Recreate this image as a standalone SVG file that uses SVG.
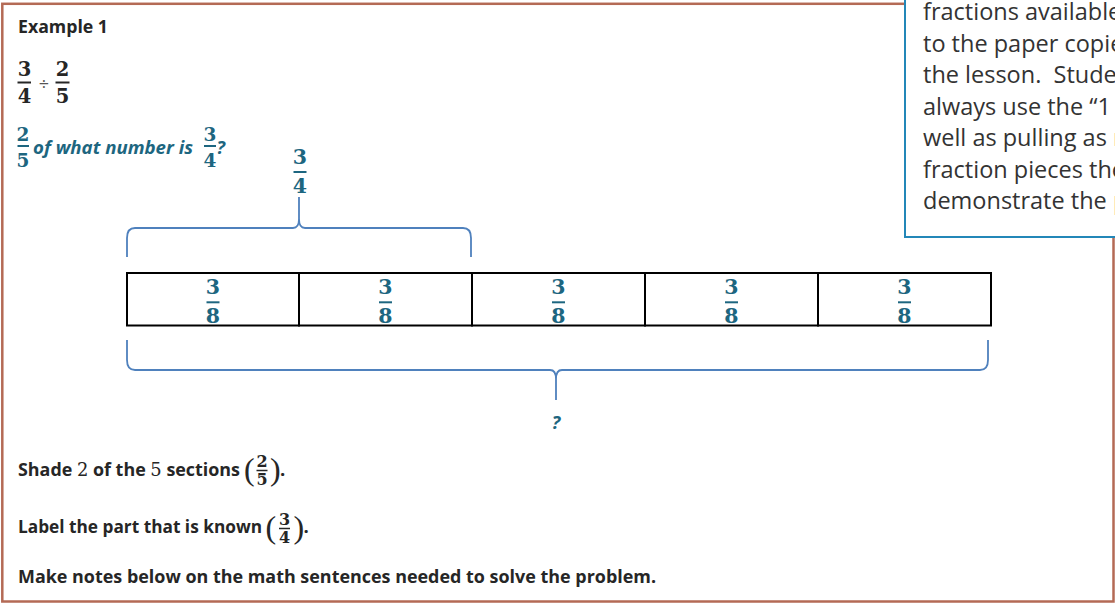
<svg xmlns="http://www.w3.org/2000/svg" width="1115" height="603" viewBox="0 0 1115 603">
<style>
.t{font-family:"Open Sans","Liberation Sans",sans-serif;font-weight:700;font-size:18.5px;fill:#262626}
.teal{fill:#1D6680}
.it{font-style:italic}
.num{font-family:"DejaVu Serif","Liberation Serif",serif;font-weight:700;text-anchor:middle}
.dk{fill:#262626}
.bar{stroke-width:2}
.bk{stroke:#262626}
.tb{stroke:#1D6680}
.note{font-family:"Open Sans","Liberation Sans",sans-serif;font-size:23.5px;fill:#333}
.brace{fill:none;stroke:#4F81BD;stroke-width:1.8}
.cell{fill:none;stroke:#000;stroke-width:2}
.paren{font-family:"Liberation Serif",serif;font-size:32px;fill:#262626}
.inl{font-family:"DejaVu Serif",serif;font-weight:400}
</style>
<rect width="1115" height="603" fill="#fff"/>
<g id="frame">
<rect x="2.3" y="3.8" width="1111.2" height="597.7" fill="none" stroke="#B46A55" stroke-width="2.5"/>
</g>
<g id="note">
<rect x="905" y="-5" width="230" height="242" fill="#fff" stroke="#2387B8" stroke-width="2"/>
<text class="note" x="923" y="20">fractions available</text>
<text class="note" x="923" y="51.5">to the paper copie</text>
<text class="note" x="923" y="83" xml:space="preserve">the lesson.  Stude</text>
<text class="note" x="923" y="114.5">always use the “1</text>
<text class="note" x="923" y="146">well as pulling as m</text>
<text class="note" x="923" y="177.5">fraction pieces the</text>
<text class="note" x="923" y="209">demonstrate the p</text>
</g>
<g id="title">
<text class="t" x="18" y="32.5" textLength="90" lengthAdjust="spacingAndGlyphs">Example 1</text>
</g>
<g id="problem">
<text class="num dk" x="24.5" y="75.5" font-size="19.5">3</text>
<line class="bar bk" x1="17.5" y1="82.5" x2="31" y2="82.5"/>
<text class="num dk" x="24.5" y="103" font-size="19.5">4</text>
<text x="44" y="90" font-family="Open Sans, sans-serif" font-size="18" fill="#555" text-anchor="middle">÷</text>
<text class="num dk" x="62.5" y="75.5" font-size="19.5">2</text>
<line class="bar bk" x1="55.5" y1="82.5" x2="69.5" y2="82.5"/>
<text class="num dk" x="62.5" y="103" font-size="19.5">5</text>
</g>
<g id="question">
<text class="num teal" x="23" y="140.5" font-size="18.5">2</text>
<line class="bar tb" x1="17.5" y1="146" x2="29" y2="146"/>
<text class="num teal" x="23" y="167" font-size="18.5">5</text>
<text class="t teal it" x="33" y="153.5" textLength="160" lengthAdjust="spacingAndGlyphs">of what number is</text>
<text class="num teal" x="210" y="140.5" font-size="18.5">3</text>
<line class="bar tb" x1="204" y1="146" x2="216" y2="146"/>
<text class="num teal" x="210" y="167" font-size="18.5">4</text>
<text class="t teal it" x="216.5" y="153.5">?</text>
</g>
<g id="known-label">
<text class="num teal" x="300" y="164" font-size="20.5">3</text>
<line class="bar tb" x1="293.5" y1="172" x2="306.5" y2="172"/>
<text class="num teal" x="300" y="192.5" font-size="20.5">4</text>
</g>
<g id="tape">
<g id="section1"><rect class="cell" x="127" y="273" width="172" height="52.5"/><text class="num teal" x="213" y="293.5" font-size="20.5">3</text><line class="tb" x1="206.5" y1="302.3" x2="219.5" y2="302.3" stroke-width="2"/><text class="num teal" x="213" y="322.5" font-size="20.5">8</text></g>
<g id="section2"><rect class="cell" x="299" y="273" width="173" height="52.5"/><text class="num teal" x="385.5" y="293.5" font-size="20.5">3</text><line class="tb" x1="379" y1="302.3" x2="392" y2="302.3" stroke-width="2"/><text class="num teal" x="385.5" y="322.5" font-size="20.5">8</text></g>
<g id="section3"><rect class="cell" x="472" y="273" width="173" height="52.5"/><text class="num teal" x="558.5" y="293.5" font-size="20.5">3</text><line class="tb" x1="552" y1="302.3" x2="565" y2="302.3" stroke-width="2"/><text class="num teal" x="558.5" y="322.5" font-size="20.5">8</text></g>
<g id="section4"><rect class="cell" x="645" y="273" width="173" height="52.5"/><text class="num teal" x="731.5" y="293.5" font-size="20.5">3</text><line class="tb" x1="725" y1="302.3" x2="738" y2="302.3" stroke-width="2"/><text class="num teal" x="731.5" y="322.5" font-size="20.5">8</text></g>
<g id="section5"><rect class="cell" x="818" y="273" width="173" height="52.5"/><text class="num teal" x="904.5" y="293.5" font-size="20.5">3</text><line class="tb" x1="898" y1="302.3" x2="911" y2="302.3" stroke-width="2"/><text class="num teal" x="904.5" y="322.5" font-size="20.5">8</text></g>
</g>
<g id="connectors">
<path class="brace" d="M127,257 L127,238 Q127,228 135,228 L293,228 Q299,228 299,219 L299,197 M299,219 Q299,228 305,228 L463,228 Q471,228 471,238 L471,257"/>
<path class="brace" d="M127,340 L127,360 Q127,370 135,370 L550,370 Q556,370 556,379 L556,400 M556,379 Q556,370 562,370 L980,370 Q988,370 988,360 L988,340"/>
</g>
<g id="unknown-label">
<text class="t teal it" x="556" y="429" text-anchor="middle">?</text>
</g>
<g id="instructions">
<text class="t" x="18" y="476" textLength="222" lengthAdjust="spacingAndGlyphs">Shade <tspan class="inl">2</tspan> of the <tspan class="inl">5</tspan> sections</text>
<text class="paren" x="244" y="480">(</text>
<text class="num dk" x="262" y="467" font-size="16">2</text>
<line class="bk" x1="256.5" y1="470.5" x2="267.5" y2="470.5" stroke-width="1.5"/>
<text class="num dk" x="262" y="485" font-size="16">5</text>
<text class="paren" x="270" y="480">)</text>
<text class="t" x="280" y="476">.</text>
<text class="t" x="18" y="533" textLength="244" lengthAdjust="spacingAndGlyphs">Label the part that is known</text>
<text class="paren" x="265.5" y="538">(</text>
<text class="num dk" x="284.5" y="525" font-size="16">3</text>
<line class="bk" x1="279" y1="528.5" x2="290" y2="528.5" stroke-width="1.5"/>
<text class="num dk" x="284.5" y="543" font-size="16">4</text>
<text class="paren" x="293.5" y="538">)</text>
<text class="t" x="303.5" y="533">.</text>
<text class="t" x="18" y="583" textLength="638" lengthAdjust="spacingAndGlyphs">Make notes below on the math sentences needed to solve the problem.</text>
</g>
</svg>
